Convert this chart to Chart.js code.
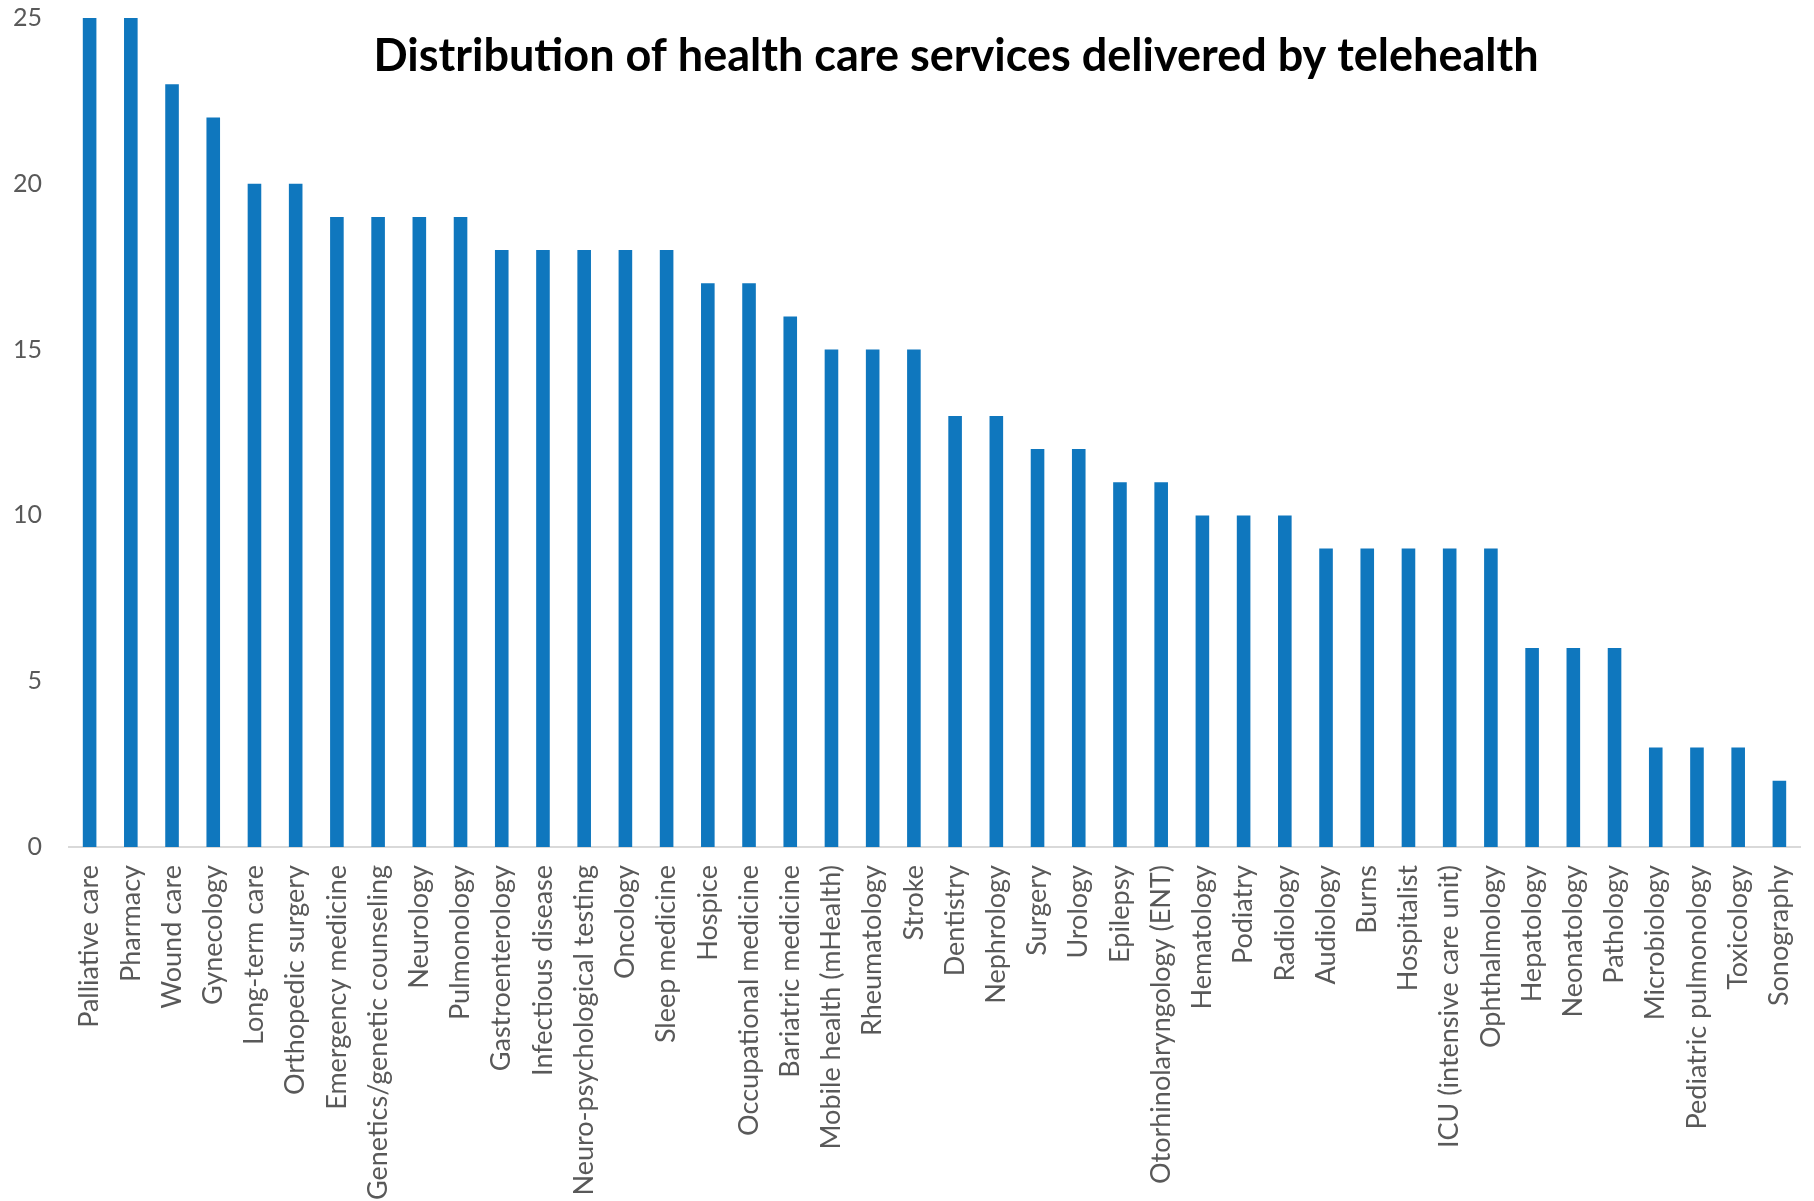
<!DOCTYPE html>
<html>
<head>
<meta charset="utf-8">
<script src="https://cdn.jsdelivr.net/npm/chart.js@4.4.0/dist/chart.umd.min.js"></script>
<style>
  html, body { margin: 0; padding: 0; background: #fff; }
  #wrap { width: 1814px; height: 1201px; }
</style>
</head>
<body>
<div id="wrap"><canvas id="grafica" width="1814" height="1201"></canvas></div>
<script>
// Services and how many programs deliver each one by telehealth
const servicios = [
  "Palliative care", "Pharmacy", "Wound care", "Gynecology", "Long-term care",
  "Orthopedic surgery", "Emergency medicine", "Genetics/genetic counseling",
  "Neurology", "Pulmonology", "Gastroenterology", "Infectious disease",
  "Neuro-psychological testing", "Oncology", "Sleep medicine", "Hospice",
  "Occupational medicine", "Bariatric medicine", "Mobile health (mHealth)",
  "Rheumatology", "Stroke", "Dentistry", "Nephrology", "Surgery", "Urology",
  "Epilepsy", "Otorhinolaryngology (ENT)", "Hematology", "Podiatry", "Radiology",
  "Audiology", "Burns", "Hospitalist", "ICU (intensive care unit)", "Ophthalmology",
  "Hepatology", "Neonatology", "Pathology", "Microbiology", "Pediatric pulmonology",
  "Toxicology", "Sonography"
];
const conteos = [
  25, 25, 23, 22, 20, 20, 19, 19, 19, 19, 18, 18, 18, 18, 18, 17, 17, 16, 15, 15,
  15, 13, 13, 12, 12, 11, 11, 10, 10, 10, 9, 9, 9, 9, 9, 6, 6, 6, 3, 3, 3, 2
];
const ticksY = [0, 5, 10, 15, 20, 25];
const titulo = "Distribution of health care services delivered by telehealth";

const fuente = "Lato, 'Open Sans', sans-serif";
const gris = "#595959";

// Title sits inside the plot area, so it is painted by hand after the bars
const tituloPlugin = {
  id: "tituloInterno",
  afterDraw(chart) {
    const ctx = chart.ctx;
    ctx.save();
    ctx.font = "bold 45px " + fuente;
    ctx.fillStyle = "#000";
    ctx.textAlign = "center";
    ctx.textBaseline = "middle";
    ctx.fillText(titulo, 956, 56);
    ctx.restore();
  }
};

new Chart(document.getElementById("grafica").getContext("2d"), {
  type: "bar",
  data: {
    labels: servicios,
    datasets: [{
      data: conteos,
      backgroundColor: "#0F77BE",
      borderWidth: 0,
      barPercentage: 0.33,
      categoryPercentage: 1
    }]
  },
  options: {
    responsive: false,
    animation: false,
    layout: { padding: { top: 18, right: 14, left: 0, bottom: 0 } },
    plugins: {
      legend: { display: false },
      tooltip: { enabled: false }
    },
    scales: {
      x: {
        grid: { display: false, drawTicks: false },
        border: { display: true, color: "#D9D9D9", width: 2 },
        ticks: {
          color: gris,
          font: { family: fuente, size: 27 },
          minRotation: 90,
          maxRotation: 90,
          autoSkip: false,
          padding: 18
        },
        afterFit(scale) {
          scale.height = 354;
          scale.paddingLeft = 0;
          scale.paddingRight = 0;
        }
      },
      y: {
        min: 0,
        max: 25,
        afterBuildTicks(scale) { scale.ticks = ticksY.map(v => ({ value: v })); },
        grid: { display: false, drawTicks: false },
        border: { display: false },
        ticks: {
          color: gris,
          font: { family: fuente, size: 25 },
          padding: 27
        },
        afterFit(scale) {
          scale.width = 69;
          scale.paddingTop = 0;
          scale.paddingBottom = 0;
        }
      }
    }
  },
  plugins: [tituloPlugin]
});
</script>
</body>
</html>
